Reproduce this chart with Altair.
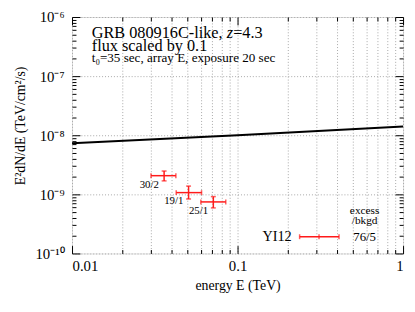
import altair as alt
import pandas as pd

# measured points (energy in TeV, E^2 dN/dE in TeV/cm^2/s)
energy = [0.036, 0.0506, 0.0714]
energy_lo = [0.030, 0.0426, 0.060]
energy_hi = [0.0424, 0.0606, 0.0849]
flux = [2.07e-9, 1.07e-9, 7.45e-10]
flux_lo = [1.69e-9, 8.35e-10, 5.9e-10]
flux_hi = [2.48e-9, 1.38e-9, 9.15e-10]
counts = ["30/2", "19/1", "25/1"]

# model spectrum
model_energy = [0.01, 0.1, 1.0]
model_flux = [7.3e-9, 1.0e-8, 1.4e-8]

# axis ticks
x_major = [0.01, 0.1, 1]
x_minor = [k * 10.0 ** e for e in (-2, -1) for k in range(2, 10)]
y_major = [1e-10, 1e-9, 1e-8, 1e-7, 1e-6]
y_minor = [k * 10.0 ** e for e in (-10, -9, -8, -7) for k in range(2, 10)]
y_labels = ["10⁻¹⁰", "10⁻⁹", "10⁻⁸", "10⁻⁷", "10⁻⁶"]

FONT = "Liberation Serif"
RED = "#ff1a1a"

pts = pd.DataFrame({"E": energy, "Elo": energy_lo, "Ehi": energy_hi,
                    "F": flux, "Flo": flux_lo, "Fhi": flux_hi, "label": counts})
model = pd.DataFrame({"E": model_energy, "F": model_flux})
xcaps = pd.DataFrame({"E": energy_lo + energy_hi, "F": flux + flux})
ycaps = pd.DataFrame({"E": energy + energy, "F": flux_lo + flux_hi})

xscale = alt.Scale(type="log", domain=[0.01, 1], nice=False)
yscale = alt.Scale(type="log", domain=[1e-10, 1e-6], nice=False)

grid_style = dict(gridColor="#a8a8a8", gridDash=[1, 2], gridWidth=1)


def ax(orient, values, size, grid=False, **kw):
    opts = dict(orient=orient, values=values, tickSize=size, offset=-size,
                domain=False, grid=grid, tickColor="black", tickWidth=1)
    if grid:
        opts.update(grid_style)
    if "labels" not in kw:
        kw["labels"] = False
    if "title" not in kw:
        kw["title"] = None
    opts.update(kw)
    return alt.Axis(**opts)


ylab_expr = " : ".join(
    f"datum.value < {v * 3:.1e} ? '{lab}'" for v, lab in zip(y_major[:-1], y_labels[:-1])
) + f" : '{y_labels[-1]}'"

main_x = ax("bottom", x_major, 8, grid=True, labels=True, format="~g",
            labelFont=FONT, labelFontSize=15, labelPadding=5, labelColor="black",
            title="energy E (TeV)", titleFont=FONT, titleFontSize=14,
            titleFontWeight="normal", titleColor="black", titlePadding=6)
main_y = ax("left", y_major, 8, grid=True, labels=True, labelExpr=ylab_expr,
            labelFont=FONT, labelFontSize=15, labelPadding=8, labelColor="black",
            title="E²dN/dE (TeV/cm²/s)", titleFont=FONT, titleFontSize=14,
            titleFontWeight="normal", titleColor="black", titlePadding=8, titleY=110)

line = alt.Chart(model).mark_line(color="black", strokeWidth=2).encode(
    x=alt.X("E:Q", scale=xscale, axis=main_x),
    y=alt.Y("F:Q", scale=yscale, axis=main_y),
)

errx = alt.Chart(pts).mark_rule(color=RED, strokeWidth=1.5).encode(
    x=alt.X("Elo:Q", scale=xscale, axis=ax("bottom", x_minor, 4, grid=True)),
    x2="Ehi:Q",
    y=alt.Y("F:Q", scale=yscale, axis=ax("left", y_minor, 4)),
)

erry = alt.Chart(pts).mark_rule(color=RED, strokeWidth=1.5).encode(
    x=alt.X("E:Q", scale=xscale, axis=ax("top", x_major, 8)),
    y=alt.Y("Flo:Q", scale=yscale, axis=ax("right", y_major, 8)),
    y2="Fhi:Q",
)

labels = alt.Chart(pts).mark_text(font=FONT, fontSize=11, dx=-15, dy=9, color="black").encode(
    x=alt.X("E:Q", scale=xscale, axis=ax("top", x_minor, 4)),
    y=alt.Y("F:Q", scale=yscale, axis=ax("right", y_minor, 4)),
    text="label:N",
)

xcap = alt.Chart(xcaps).mark_tick(color=RED, orient="vertical", size=5, thickness=1.5).encode(
    x=alt.X("E:Q", scale=xscale, axis=None),
    y=alt.Y("F:Q", scale=yscale, axis=None),
)
ycap = alt.Chart(ycaps).mark_tick(color=RED, orient="horizontal", size=5, thickness=1.5).encode(
    x=alt.X("E:Q", scale=xscale, axis=None),
    y=alt.Y("F:Q", scale=yscale, axis=None),
)

# annotation text block
FS1 = 16.5
t1 = alt.Chart().mark_text(text="GRB 080916C-like, ", font=FONT, fontSize=FS1, align="left",
                           baseline="alphabetic", color="black").encode(
    x=alt.value(20), y=alt.value(21))
t1z = alt.Chart().mark_text(text="z", font=FONT, fontSize=FS1, fontStyle="italic", align="left",
                            baseline="alphabetic", color="black").encode(
    x=alt.value(20 + 8.31 * FS1), y=alt.value(21))
t1b = alt.Chart().mark_text(text="=4.3", font=FONT, fontSize=FS1, align="left",
                            baseline="alphabetic", color="black").encode(
    x=alt.value(20 + 8.70 * FS1), y=alt.value(21))
t2 = alt.Chart().mark_text(text="flux scaled by 0.1", font=FONT, fontSize=FS1, align="left",
                           baseline="alphabetic", color="black").encode(
    x=alt.value(20), y=alt.value(34.5))
t3 = alt.Chart().mark_text(text="t₀=35 sec, array E, exposure 20 sec", font=FONT, fontSize=13.3,
                           align="left", baseline="alphabetic", color="black").encode(
    x=alt.value(20), y=alt.value(46))

# legend
leg_name = alt.Chart().mark_text(text="YI12", font=FONT, fontSize=14.5, align="right",
                                 baseline="middle", color="black").encode(
    x=alt.value(223), y=alt.value(223))
leg_line = alt.Chart().mark_rule(color=RED, strokeWidth=1.5).encode(
    x=alt.value(231), x2=alt.value(271), y=alt.value(223))
leg_caps = alt.Chart(pd.DataFrame({"p": [231, 250.7, 271]})).mark_tick(
    color=RED, orient="vertical", size=5, thickness=1.5).encode(
    x=alt.X("p:Q", scale=None, axis=None), y=alt.value(223))
leg_h1 = alt.Chart().mark_text(text="excess", font=FONT, fontSize=11.5, align="center",
                               baseline="alphabetic", color="black").encode(
    x=alt.value(297), y=alt.value(200))
leg_h2 = alt.Chart().mark_text(text="/bkgd", font=FONT, fontSize=11.5, align="center",
                               baseline="alphabetic", color="black").encode(
    x=alt.value(297), y=alt.value(210))
leg_cnt = alt.Chart().mark_text(text="76/5", font=FONT, fontSize=13, align="center",
                                baseline="middle", color="black").encode(
    x=alt.value(297), y=alt.value(223))

chart = alt.layer(
    line, errx, erry, labels, xcap, ycap,
    t1, t1z, t1b, t2, t3,
    leg_name, leg_line, leg_caps, leg_h1, leg_h2, leg_cnt,
).resolve_axis(x="independent", y="independent").properties(
    width=336, height=240,
    padding={"left": 5, "top": 0, "right": 0, "bottom": 0},
).configure_view(stroke="black", strokeWidth=1.5).configure(background="white")

chart.save("out.html", embed_options={"renderer": "svg", "actions": False})
